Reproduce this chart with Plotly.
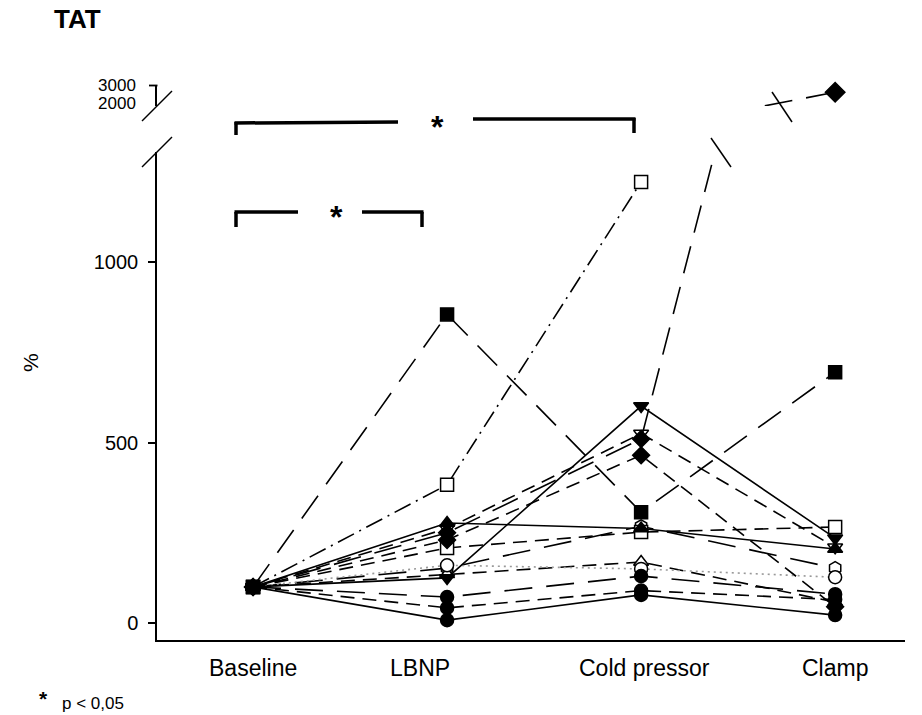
import plotly.graph_objects as go

# ---------------- data ----------------
categories = ["Baseline", "LBNP", "Cold pressor", "Clamp"]

subj_A = [100, 855, 307, 695]
subj_B = [100, 383, 1222, None]
subj_C = [100, 250, 510, 2600]
subj_D = [100, 125, 601, 235]
subj_E = [100, 277, 262, 205]
subj_F = [100, 152, 268, 152]
subj_G = [100, 72, 130, 80]
subj_H = [100, 42, 90, 65]
subj_I = [100, 8, 78, 22]
subj_J = [100, 208, 252, 266]
subj_K = [100, 135, 169, 58]
subj_L = [100, 160, 150, 127]
subj_M = [100, 230, 465, 45]
subj_N = [100, 262, 525, 210]

lower_ticks = [0, 500, 1000]
upper_ticks = [2000, 3000]
upper_tick_labels = ["2000", "3000"]
lower_range = [-47, 1305]
upper_range = [1833, 3000]

# ---------------- styles ----------------
LONG = "28px,14px"
DASH = "14px,8px"
DDOT = "18px,6px,2px,6px"
DOT = "2px,4px"

styles = [
    (subj_B, "square", False, DDOT, "black"),
    (subj_F, "hexagon", False, LONG, "black"),
    (subj_J, "square", False, DASH, "black"),
    (subj_K, "triangle-up", False, DASH, "black"),
    (subj_L, "circle", False, DOT, "#999999"),
    (subj_N, "triangle-down", False, DASH, "black"),
    (subj_A, "square", True, LONG, "black"),
    (subj_C, "diamond", True, LONG, "black"),
    (subj_D, "triangle-down", True, "solid", "black"),
    (subj_E, "triangle-up", True, "solid", "black"),
    (subj_G, "circle", True, LONG, "black"),
    (subj_H, "circle", True, DASH, "black"),
    (subj_I, "circle", True, "solid", "black"),
    (subj_M, "diamond", True, DASH, "black"),
]

FONT = "Arial, Liberation Sans, sans-serif"
W, H = 922, 715
L, R, T, B = 157, 17, 85, 75
PW, PH = W - L - R, H - T - B


def px(x, y):
    return (x - L) / PW, (H - B - y) / PH


lower_top_px = 152
upper_bot_px = 106
lower_dom = [0, px(0, lower_top_px)[1]]
upper_dom = [px(0, upper_bot_px)[1], 1]

fig = go.Figure()
xs = list(range(len(categories)))

for vals, sym, filled, dash, lcol in styles:
    mcol = "black" if filled else "white"
    fig.add_trace(go.Scatter(
        x=xs, y=vals, mode="lines+markers", yaxis="y",
        line=dict(color=lcol, width=1.6, dash=dash),
        marker=dict(symbol=sym, size=13, color=mcol,
                    line=dict(color="black", width=1.5)),
        connectgaps=False, showlegend=False, hoverinfo="skip"))
    # segments that reach the upper (broken) part of the axis
    for i in range(1, len(vals)):
        if vals[i] is not None and vals[i] > lower_range[1]:
            fig.add_trace(go.Scatter(
                x=xs[i - 1:i + 1], y=vals[i - 1:i + 1], mode="lines",
                yaxis="y2", line=dict(color=lcol, width=1.6, dash=dash),
                showlegend=False, hoverinfo="skip"))
            fig.add_trace(go.Scatter(
                x=[xs[i]], y=[vals[i]], mode="markers", yaxis="y2",
                cliponaxis=False,
                marker=dict(symbol=sym, size=15, color=mcol, opacity=1,
                            line=dict(color="black", width=1.5)),
                showlegend=False, hoverinfo="skip"))

shapes = []


def seg(x0, y0, x1, y1, w=1.5):
    a = px(x0, y0)
    b = px(x1, y1)
    shapes.append(dict(type="line", xref="paper", yref="paper",
                       x0=a[0], y0=a[1], x1=b[0], y1=b[1],
                       line=dict(color="black", width=w)))


# axis break marks
seg(142, 167, 172, 137)
seg(142, 121, 172, 91)
seg(149, 85.5, 157.5, 85.5, 1.8)
# break marks on the data line
seg(711, 138, 731, 167)
seg(772, 92, 792, 122)
# significance brackets
bw = 3.5
seg(236, 135, 236, 122, bw)
seg(234.5, 123, 398, 122, bw)
seg(473, 119, 635.5, 119, bw)
seg(634, 118, 634, 133, bw)
seg(236, 227, 236, 212, bw)
seg(234.5, 212, 298, 212, bw)
seg(362, 212, 423.5, 212, bw)
seg(422, 212, 422, 227, bw)

annotations = []
label_shift = [0, -27, 3, 0]
for i, c in enumerate(categories):
    annotations.append(dict(x=i, y=0, xref="x", yref="paper", text=c,
                            showarrow=False, yanchor="middle", yshift=-28,
                            xshift=label_shift[i],
                            font=dict(family=FONT, size=23, color="black")))


def txt(x, y, t, size, bold=False, angle=0, xanchor="center"):
    p = px(x, y)
    annotations.append(dict(x=p[0], y=p[1], xref="paper", yref="paper",
                            text=f"<b>{t}</b>" if bold else t, showarrow=False,
                            xanchor=xanchor, yanchor="middle", textangle=angle,
                            font=dict(family=FONT, size=size, color="black")))


txt(77, 19, "TAT", 26, bold=True)
txt(30, 362, "%", 21, angle=-90)
txt(437, 127, "*", 32, bold=True)
txt(336, 217, "*", 32, bold=True)
txt(43, 698, "*", 21, bold=True)
txt(60, 703, "p &lt; 0,05", 17, xanchor="left")

axis_common = dict(showgrid=False, zeroline=False, showline=True,
                   linecolor="black", linewidth=1.5, ticks="outside",
                   ticklen=7, tickwidth=1.5, tickcolor="black",
                   ticklabelstandoff=6,
                   tickfont=dict(family=FONT, size=20, color="black"))

fig.update_layout(
    width=W, height=H, margin=dict(l=L, r=R, t=T, b=B),
    paper_bgcolor="white", plot_bgcolor="white",
    xaxis=dict(domain=[0, 1], range=[-0.495, 3.36], showgrid=False,
               zeroline=False, showline=True, linecolor="black",
               linewidth=1.5, ticks="", showticklabels=False,
               tickvals=xs, anchor="y"),
    yaxis=dict(domain=lower_dom, range=lower_range, tickvals=lower_ticks,
               anchor="x", **axis_common),
    yaxis2=dict(domain=upper_dom, range=upper_range, tickvals=upper_ticks,
                ticktext=upper_tick_labels, anchor="x",
                **{**axis_common, "ticks": "", "ticklabelstandoff": 16,
                   "tickfont": dict(family=FONT, size=17, color="black")}),
    shapes=shapes, annotations=annotations,
)

fig.write_html("out.html", config={"displayModeBar": False},
               post_script="document.body.style.margin='0px';")
